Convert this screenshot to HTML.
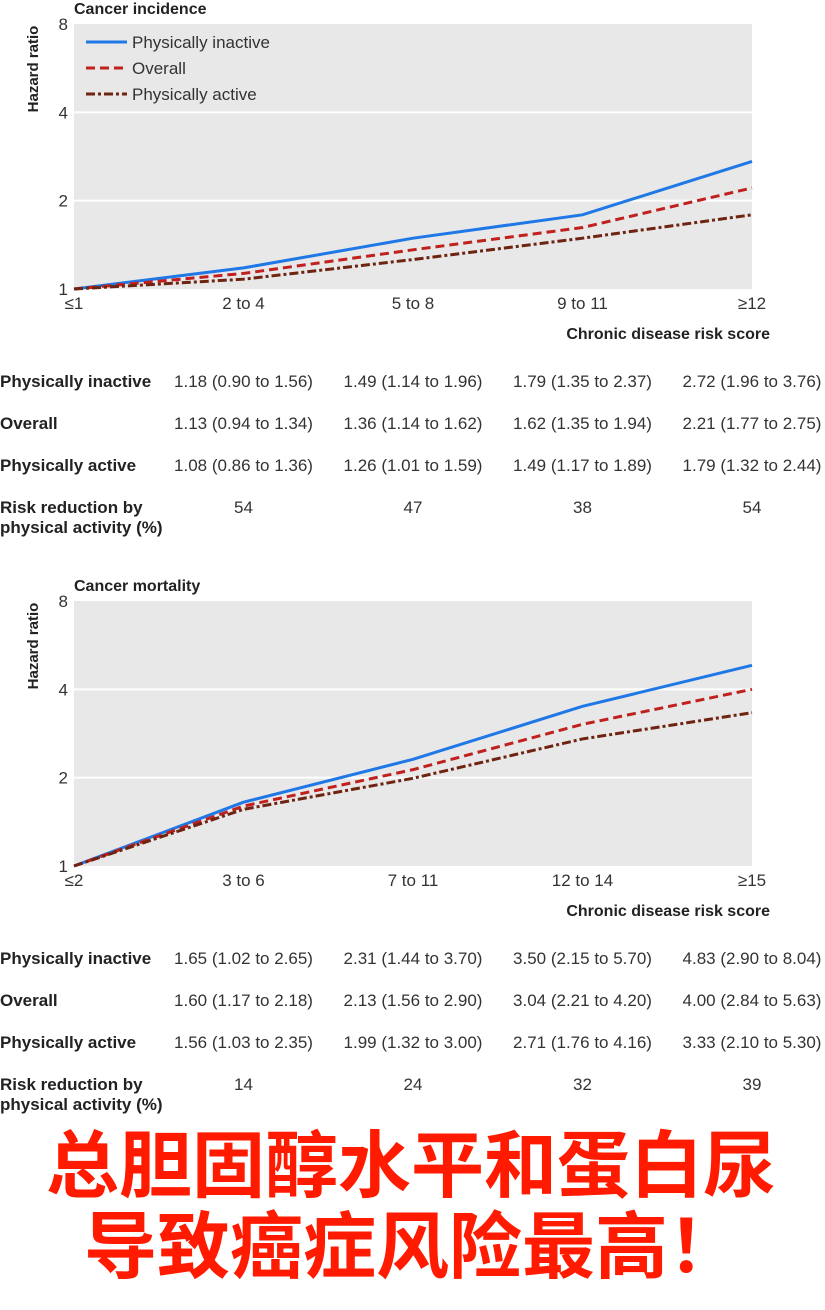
<!DOCTYPE html>
<html><head><meta charset="utf-8">
<style>
body{margin:0;background:#fff;width:825px;height:1310px;overflow:hidden;font-family:"Liberation Sans",sans-serif;}
svg{position:absolute;left:0;top:0}
.cn{position:absolute;color:#ff1a00;font-weight:bold;font-size:73px;font-family:"Liberation Sans","Noto Sans CJK SC",sans-serif;line-height:1;white-space:nowrap}
</style></head><body>
<svg id="s" width="825" height="1310"></svg>
<div class="cn" style="top:1130px;left:46px">总胆固醇水平和蛋白尿</div>
<div class="cn" style="top:1211px;left:84px">导致癌症风险最高！</div>
<script>
const catsA=["≤1","2 to 4","5 to 8","9 to 11","≥12"];
const inactiveA=[1,1.18,1.49,1.79,2.72];
const overallA=[1,1.13,1.36,1.62,2.21];
const activeA=[1,1.08,1.26,1.49,1.79];
const tblA=[["1.18 (0.90 to 1.56)","1.49 (1.14 to 1.96)","1.79 (1.35 to 2.37)","2.72 (1.96 to 3.76)"],["1.13 (0.94 to 1.34)","1.36 (1.14 to 1.62)","1.62 (1.35 to 1.94)","2.21 (1.77 to 2.75)"],["1.08 (0.86 to 1.36)","1.26 (1.01 to 1.59)","1.49 (1.17 to 1.89)","1.79 (1.32 to 2.44)"],["54","47","38","54"]];
const catsB=["≤2","3 to 6","7 to 11","12 to 14","≥15"];
const inactiveB=[1,1.65,2.31,3.50,4.83];
const overallB=[1,1.60,2.13,3.04,4.00];
const activeB=[1,1.56,1.99,2.71,3.33];
const tblB=[["1.65 (1.02 to 2.65)","2.31 (1.44 to 3.70)","3.50 (2.15 to 5.70)","4.83 (2.90 to 8.04)"],["1.60 (1.17 to 2.18)","2.13 (1.56 to 2.90)","3.04 (2.21 to 4.20)","4.00 (2.84 to 5.63)"],["1.56 (1.03 to 2.35)","1.99 (1.32 to 3.00)","2.71 (1.76 to 4.16)","3.33 (2.10 to 5.30)"],["14","24","32","39"]];
const yTicks=[1,2,4,8];
const NS="http://www.w3.org/2000/svg";
const svg=document.getElementById('s');
function el(t,a,txt){const e=document.createElementNS(NS,t);for(const k in a)e.setAttribute(k,a[k]);if(txt!==undefined)e.textContent=txt;svg.appendChild(e);return e;}
function panel(top,title,cats,series,tbl,legend,key){
  const x0=74,x1=752,bottom=top+265;
  const xs=i=>x0+(x1-x0)*i/(cats.length-1);
  const ys=v=>bottom-Math.log2(v)*(265/3);
  let e=el('rect',{x:x0,y:top,width:x1-x0,height:265,fill:'#e8e8e8'});
  
  e=el('text',{x:x0,y:top-10,'font-size':16,'font-weight':'bold',fill:'#222'},title);
  
  yTicks.forEach(t=>{
    if(t>1&&t<8){e=el('line',{x1:x0,x2:x1,y1:ys(t),y2:ys(t),stroke:'#fff','stroke-width':2});}
    e=el('text',{x:x0-6,y:ys(t)+6,'font-size':17,'text-anchor':'end',fill:'#333'},String(t));
    
  });
  e=el('text',{transform:`translate(38,${top+45}) rotate(-90)`,'font-size':15,'font-weight':'bold','text-anchor':'middle',fill:'#222'},'Hazard ratio');
  
  cats.forEach((c,i)=>{
    e=el('text',{x:xs(i),y:bottom+20,'font-size':17,'text-anchor':'middle',fill:'#333'},c);
    
  });
  e=el('text',{x:770,y:bottom+50,'font-size':16,'font-weight':'bold','text-anchor':'end',fill:'#222'},'Chronic disease risk score');
  
  series.forEach(s=>{
    e=el('polyline',{points:s.v.map((v,i)=>xs(i)+','+ys(v)).join(' '),fill:'none',stroke:s.c,'stroke-width':3,'stroke-dasharray':s.d||'none'});
    
  });
  if(legend){
    series.forEach((s,i)=>{
      const ly=top+18+i*26;
      e=el('line',{x1:86,x2:127,y1:ly,y2:ly,stroke:s.c,'stroke-width':3,'stroke-dasharray':s.d||'none'});
      
      e=el('text',{x:132,y:ly+6,'font-size':17,fill:'#333'},s.label);
      
    });
  }
  const labels=['Physically inactive','Overall','Physically active'];
  const ry=[bottom+98,bottom+140,bottom+182,bottom+224];
  labels.forEach((l,r)=>{
    e=el('text',{x:0,y:ry[r],'font-size':17,'font-weight':'bold',fill:'#222'},l);
    
  });
  e=el('text',{x:0,y:ry[3],'font-size':17,'font-weight':'bold',fill:'#222'},'Risk reduction by');
  
  e=el('text',{x:0,y:ry[3]+20,'font-size':17,'font-weight':'bold',fill:'#222'},'physical activity (%)');
  
  tbl.forEach((row,r)=>row.forEach((v,c)=>{
    e=el('text',{x:xs(c+1),y:ry[r],'font-size':17,'text-anchor':'middle',fill:'#333'},v);
    
  }));
}
const mk=(a,b,c)=>[{n:'inactive',v:a,c:'#1f78e6',label:'Physically inactive'},{n:'overall',v:b,c:'#c0201e',d:'9 5',label:'Overall'},{n:'active',v:c,c:'#6e2410',d:'9 3 3 3',label:'Physically active'}];
panel(24,'Cancer incidence',catsA,mk(inactiveA,overallA,activeA),tblA,true,'incidence');
panel(601,'Cancer mortality',catsB,mk(inactiveB,overallB,activeB),tblB,false,'mortality');
</script>
</body></html>
